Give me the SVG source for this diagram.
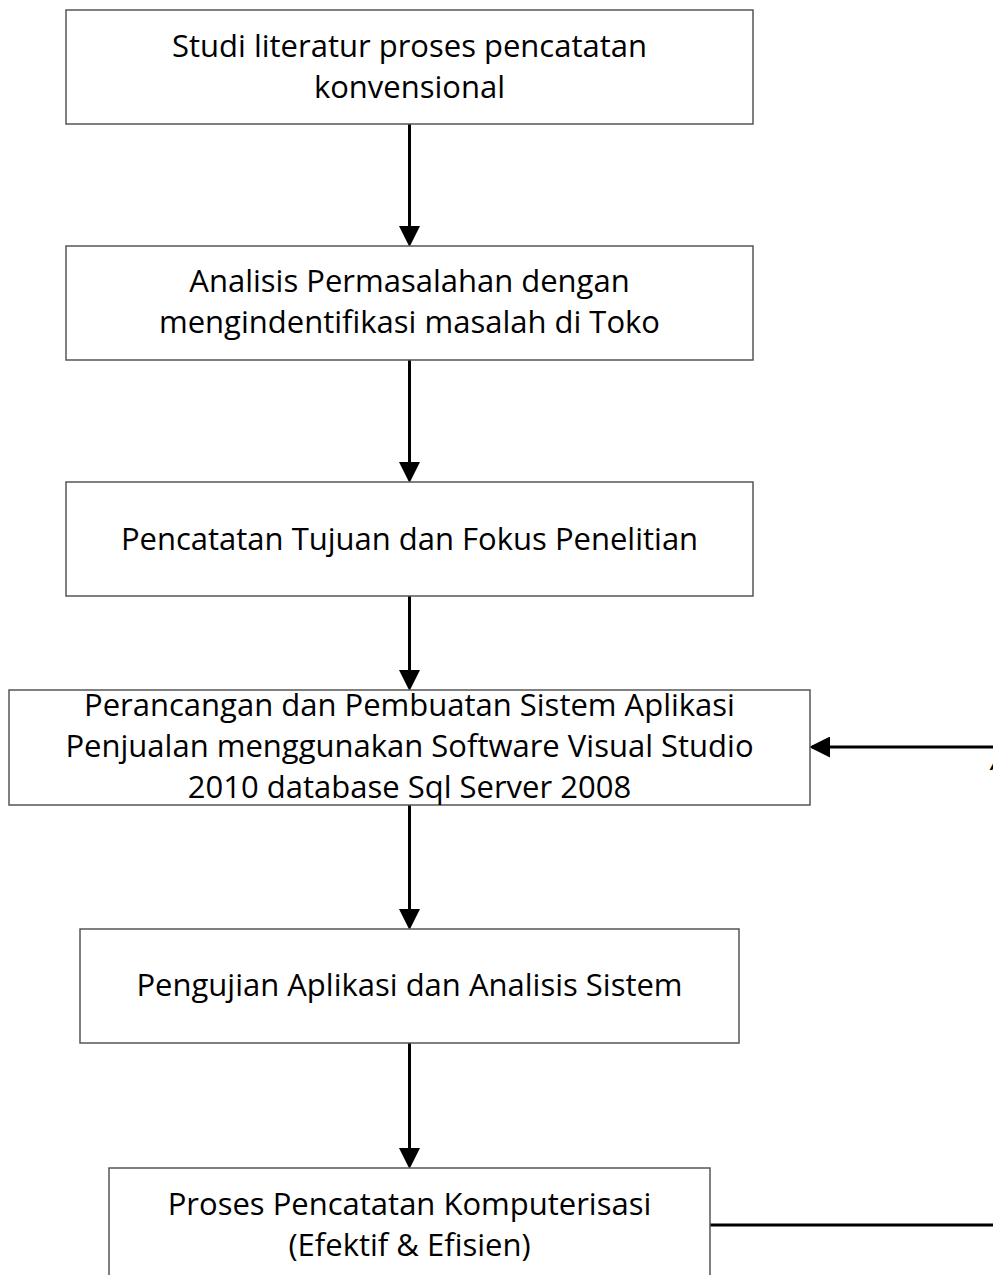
<svg xmlns="http://www.w3.org/2000/svg" width="993" height="1275" viewBox="0 0 993 1275">
<style>
.box{fill:#fff;stroke:#555;stroke-width:1.5}
.t{font-family:"Open Sans","Liberation Sans",sans-serif;font-size:31px;fill:#000;text-anchor:middle}
.c{stroke:#000;stroke-width:3;fill:none}
</style>
<defs>
<marker id="ah" markerWidth="7" markerHeight="7" refX="6" refY="3.5" orient="auto" markerUnits="strokeWidth">
<path d="M0,0 L7,3.5 L0,7 Z" fill="#000"/>
</marker>
</defs>
<rect width="993" height="1275" fill="#fff"/>
<g id="connectors">
<line class="c" x1="409.5" y1="124" x2="409.5" y2="244" marker-end="url(#ah)"/>
<line class="c" x1="409.5" y1="360" x2="409.5" y2="480" marker-end="url(#ah)"/>
<line class="c" x1="409.5" y1="596" x2="409.5" y2="688" marker-end="url(#ah)"/>
<line class="c" x1="409.5" y1="805" x2="409.5" y2="927" marker-end="url(#ah)"/>
<line class="c" x1="409.5" y1="1043" x2="409.5" y2="1166" marker-end="url(#ah)"/>
<line class="c" x1="993" y1="747" x2="812" y2="747" marker-end="url(#ah)"/>
<line class="c" x1="710" y1="1225" x2="993" y2="1225"/>
</g>
<g id="n1"><rect class="box" x="66" y="10" width="687" height="114"/>
<text class="t" x="409.5" y="57">Studi literatur proses pencatatan</text>
<text class="t" x="409.5" y="98">konvensional</text></g>
<g id="n2"><rect class="box" x="66" y="246" width="687" height="114"/>
<text class="t" x="409.5" y="292">Analisis Permasalahan dengan</text>
<text class="t" x="409.5" y="333">mengindentifikasi masalah di Toko</text></g>
<g id="n3"><rect class="box" x="66" y="482" width="687" height="114"/>
<text class="t" x="409.5" y="550">Pencatatan Tujuan dan Fokus Penelitian</text></g>
<g id="n4"><rect class="box" x="9" y="690" width="801" height="115"/>
<text class="t" x="409.5" y="716">Perancangan dan Pembuatan Sistem Aplikasi</text>
<text class="t" x="409.5" y="757">Penjualan menggunakan Software Visual Studio</text>
<text class="t" x="409.5" y="798">2010 database Sql Server 2008</text></g>
<g id="n5"><rect class="box" x="80" y="929" width="659" height="114"/>
<text class="t" x="409.5" y="996">Pengujian Aplikasi dan Analisis Sistem</text></g>
<g id="n6"><rect class="box" x="109" y="1168" width="601" height="120"/>
<text class="t" x="409.5" y="1215">Proses Pencatatan Komputerisasi</text>
<text class="t" x="409.5" y="1256">(Efektif &amp; Efisien)</text></g>
<text class="t" x="1000" y="770" style="font-style:italic">A</text>
</svg>
